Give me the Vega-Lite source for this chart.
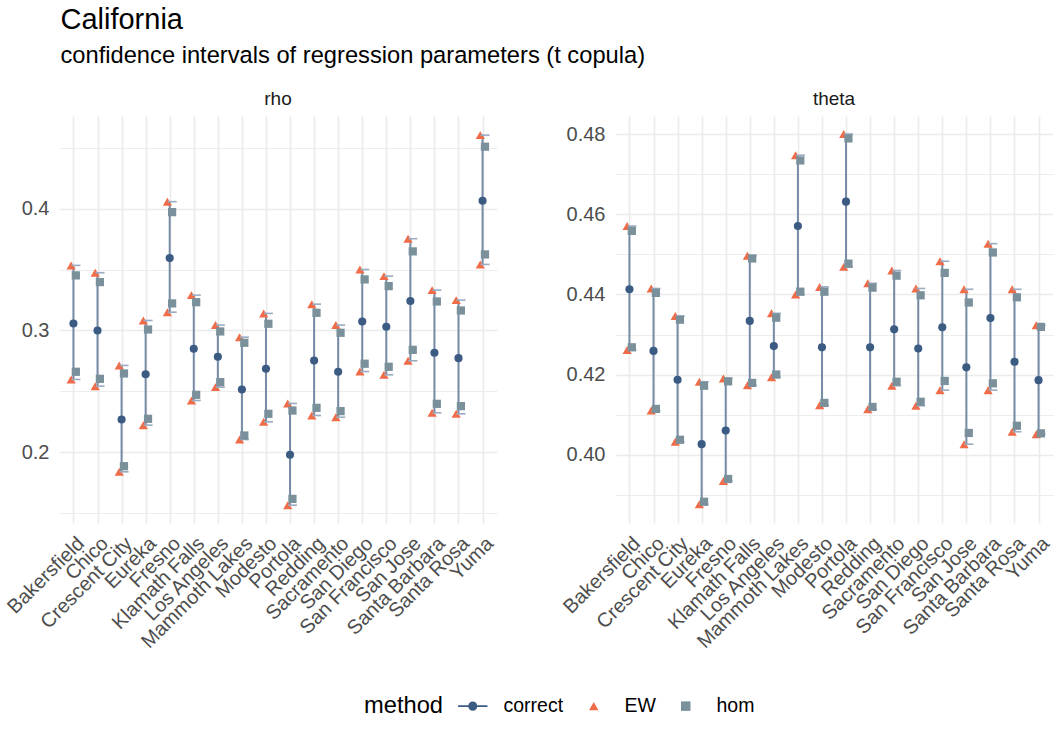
{
  "$schema": "https://vega.github.io/schema/vega-lite/v6.json",
  "padding": {"left": 3, "top": 6, "right": 5, "bottom": 5},
  "background": "white",
  "title": {
    "text": "California",
    "subtitle": "confidence intervals of regression parameters (t copula)",
    "anchor": "start",
    "frame": "bounds",
    "dx": 57,
    "fontSize": 29,
    "fontWeight": "normal",
    "font": "Liberation Sans",
    "color": "#000000",
    "subtitleFontSize": 23.7,
    "subtitleFont": "Liberation Sans",
    "subtitleColor": "#000000",
    "subtitlePadding": 9,
    "offset": 22
  },
  "config": {
    "font": "Liberation Sans",
    "view": {"stroke": null},
    "axis": {
      "grid": true,
      "gridColor": "#ebebeb",
      "gridWidth": 1.6,
      "domain": false,
      "ticks": false,
      "labelFontSize": 20,
      "labelColor": "#4d4d4d",
      "labelFont": "Liberation Sans",
      "labelPadding": 10,
      "title": null
    },
    "title": {"fontSize": 19, "fontWeight": "normal", "color": "#1a1a1a", "font": "Liberation Sans", "offset": 7},
    "legend": {
      "orient": "none",
      "direction": "horizontal",
      "titleOrient": "left",
      "titleFontSize": 23.7,
      "titleFontWeight": "normal",
      "titleColor": "#000000",
      "titleFont": "Liberation Sans",
      "titlePadding": 19,
      "labelFontSize": 19.5,
      "labelColor": "#000000",
      "labelFont": "Liberation Sans",
      "labelOffset": 21,
      "columnPadding": 20,
      "symbolSize": 90,
      "symbolStrokeWidth": 0,
      "legendX": 305,
      "legendY": 580
    }
  },
  "data": {
    "values": [
      {"param": "rho", "city": "Bakersfield", "method": "EW", "lower": 0.2598, "upper": 0.3534},
      {"param": "rho", "city": "Bakersfield", "method": "hom", "lower": 0.2661, "upper": 0.3452},
      {"param": "rho", "city": "Bakersfield", "method": "correct", "est": 0.3057},
      {"param": "rho", "city": "Chico", "method": "EW", "lower": 0.2543, "upper": 0.3474},
      {"param": "rho", "city": "Chico", "method": "hom", "lower": 0.2603, "upper": 0.3397},
      {"param": "rho", "city": "Chico", "method": "correct", "est": 0.3},
      {"param": "rho", "city": "Crescent City", "method": "EW", "lower": 0.184, "upper": 0.2713},
      {"param": "rho", "city": "Crescent City", "method": "hom", "lower": 0.1886, "upper": 0.2647},
      {"param": "rho", "city": "Crescent City", "method": "correct", "est": 0.2269},
      {"param": "rho", "city": "Eureka", "method": "EW", "lower": 0.2223, "upper": 0.3082},
      {"param": "rho", "city": "Eureka", "method": "hom", "lower": 0.2275, "upper": 0.3008},
      {"param": "rho", "city": "Eureka", "method": "correct", "est": 0.2641},
      {"param": "rho", "city": "Fresno", "method": "EW", "lower": 0.315, "upper": 0.4057},
      {"param": "rho", "city": "Fresno", "method": "hom", "lower": 0.3222, "upper": 0.3971},
      {"param": "rho", "city": "Fresno", "method": "correct", "est": 0.3594},
      {"param": "rho", "city": "Klamath Falls", "method": "EW", "lower": 0.2425, "upper": 0.329},
      {"param": "rho", "city": "Klamath Falls", "method": "hom", "lower": 0.2472, "upper": 0.3232},
      {"param": "rho", "city": "Klamath Falls", "method": "correct", "est": 0.285},
      {"param": "rho", "city": "Los Angeles", "method": "EW", "lower": 0.2535, "upper": 0.3044},
      {"param": "rho", "city": "Los Angeles", "method": "hom", "lower": 0.2576, "upper": 0.2992},
      {"param": "rho", "city": "Los Angeles", "method": "correct", "est": 0.2784},
      {"param": "rho", "city": "Mammoth Lakes", "method": "EW", "lower": 0.2105, "upper": 0.2945},
      {"param": "rho", "city": "Mammoth Lakes", "method": "hom", "lower": 0.2138, "upper": 0.2899},
      {"param": "rho", "city": "Mammoth Lakes", "method": "correct", "est": 0.2516},
      {"param": "rho", "city": "Modesto", "method": "EW", "lower": 0.225, "upper": 0.314},
      {"param": "rho", "city": "Modesto", "method": "hom", "lower": 0.2316, "upper": 0.3055},
      {"param": "rho", "city": "Modesto", "method": "correct", "est": 0.2686},
      {"param": "rho", "city": "Portola", "method": "EW", "lower": 0.1566, "upper": 0.2401},
      {"param": "rho", "city": "Portola", "method": "hom", "lower": 0.1618, "upper": 0.2343},
      {"param": "rho", "city": "Portola", "method": "correct", "est": 0.198},
      {"param": "rho", "city": "Redding", "method": "EW", "lower": 0.2302, "upper": 0.3216},
      {"param": "rho", "city": "Redding", "method": "hom", "lower": 0.2365, "upper": 0.3145},
      {"param": "rho", "city": "Redding", "method": "correct", "est": 0.2754},
      {"param": "rho", "city": "Sacramento", "method": "EW", "lower": 0.2288, "upper": 0.3044},
      {"param": "rho", "city": "Sacramento", "method": "hom", "lower": 0.2338, "upper": 0.2981},
      {"param": "rho", "city": "Sacramento", "method": "correct", "est": 0.2661},
      {"param": "rho", "city": "San Diego", "method": "EW", "lower": 0.2663, "upper": 0.35},
      {"param": "rho", "city": "San Diego", "method": "hom", "lower": 0.2727, "upper": 0.3419},
      {"param": "rho", "city": "San Diego", "method": "correct", "est": 0.3074},
      {"param": "rho", "city": "San Francisco", "method": "EW", "lower": 0.2636, "upper": 0.3446},
      {"param": "rho", "city": "San Francisco", "method": "hom", "lower": 0.2702, "upper": 0.3364},
      {"param": "rho", "city": "San Francisco", "method": "correct", "est": 0.303},
      {"param": "rho", "city": "San Jose", "method": "EW", "lower": 0.2751, "upper": 0.3753},
      {"param": "rho", "city": "San Jose", "method": "hom", "lower": 0.2841, "upper": 0.3649},
      {"param": "rho", "city": "San Jose", "method": "correct", "est": 0.3242},
      {"param": "rho", "city": "Santa Barbara", "method": "EW", "lower": 0.2324, "upper": 0.3331},
      {"param": "rho", "city": "Santa Barbara", "method": "hom", "lower": 0.2398, "upper": 0.3238},
      {"param": "rho", "city": "Santa Barbara", "method": "correct", "est": 0.2817},
      {"param": "rho", "city": "Santa Rosa", "method": "EW", "lower": 0.2316, "upper": 0.3249},
      {"param": "rho", "city": "Santa Rosa", "method": "hom", "lower": 0.2379, "upper": 0.3164},
      {"param": "rho", "city": "Santa Rosa", "method": "correct", "est": 0.2773},
      {"param": "rho", "city": "Yuma", "method": "EW", "lower": 0.3542, "upper": 0.4603},
      {"param": "rho", "city": "Yuma", "method": "hom", "lower": 0.3624, "upper": 0.4508},
      {"param": "rho", "city": "Yuma", "method": "correct", "est": 0.4065},
      {"param": "theta", "city": "Bakersfield", "method": "EW", "lower": 0.4261, "upper": 0.4571},
      {"param": "theta", "city": "Bakersfield", "method": "hom", "lower": 0.4268, "upper": 0.4559},
      {"param": "theta", "city": "Bakersfield", "method": "correct", "est": 0.4413},
      {"param": "theta", "city": "Chico", "method": "EW", "lower": 0.411, "upper": 0.4415},
      {"param": "theta", "city": "Chico", "method": "hom", "lower": 0.4114, "upper": 0.4404},
      {"param": "theta", "city": "Chico", "method": "correct", "est": 0.4259},
      {"param": "theta", "city": "Crescent City", "method": "EW", "lower": 0.4032, "upper": 0.4346},
      {"param": "theta", "city": "Crescent City", "method": "hom", "lower": 0.4037, "upper": 0.4337},
      {"param": "theta", "city": "Crescent City", "method": "correct", "est": 0.4187},
      {"param": "theta", "city": "Eureka", "method": "EW", "lower": 0.3876, "upper": 0.4182},
      {"param": "theta", "city": "Eureka", "method": "hom", "lower": 0.3882, "upper": 0.4172},
      {"param": "theta", "city": "Eureka", "method": "correct", "est": 0.4026},
      {"param": "theta", "city": "Fresno", "method": "EW", "lower": 0.3934, "upper": 0.419},
      {"param": "theta", "city": "Fresno", "method": "hom", "lower": 0.3939, "upper": 0.4183},
      {"param": "theta", "city": "Fresno", "method": "correct", "est": 0.406},
      {"param": "theta", "city": "Klamath Falls", "method": "EW", "lower": 0.4173, "upper": 0.4497},
      {"param": "theta", "city": "Klamath Falls", "method": "hom", "lower": 0.4179, "upper": 0.449},
      {"param": "theta", "city": "Klamath Falls", "method": "correct", "est": 0.4334},
      {"param": "theta", "city": "Los Angeles", "method": "EW", "lower": 0.4193, "upper": 0.4353},
      {"param": "theta", "city": "Los Angeles", "method": "hom", "lower": 0.42, "upper": 0.4342},
      {"param": "theta", "city": "Los Angeles", "method": "correct", "est": 0.4271},
      {"param": "theta", "city": "Mammoth Lakes", "method": "EW", "lower": 0.44, "upper": 0.4748},
      {"param": "theta", "city": "Mammoth Lakes", "method": "hom", "lower": 0.4407, "upper": 0.4735},
      {"param": "theta", "city": "Mammoth Lakes", "method": "correct", "est": 0.4571},
      {"param": "theta", "city": "Modesto", "method": "EW", "lower": 0.4123, "upper": 0.4419},
      {"param": "theta", "city": "Modesto", "method": "hom", "lower": 0.4129, "upper": 0.4407},
      {"param": "theta", "city": "Modesto", "method": "correct", "est": 0.4268},
      {"param": "theta", "city": "Portola", "method": "EW", "lower": 0.4469, "upper": 0.4801},
      {"param": "theta", "city": "Portola", "method": "hom", "lower": 0.4477, "upper": 0.479},
      {"param": "theta", "city": "Portola", "method": "correct", "est": 0.4632},
      {"param": "theta", "city": "Redding", "method": "EW", "lower": 0.4113, "upper": 0.4428},
      {"param": "theta", "city": "Redding", "method": "hom", "lower": 0.4119, "upper": 0.4417},
      {"param": "theta", "city": "Redding", "method": "correct", "est": 0.4268},
      {"param": "theta", "city": "Sacramento", "method": "EW", "lower": 0.4172, "upper": 0.446},
      {"param": "theta", "city": "Sacramento", "method": "hom", "lower": 0.4182, "upper": 0.4447},
      {"param": "theta", "city": "Sacramento", "method": "correct", "est": 0.4313},
      {"param": "theta", "city": "San Diego", "method": "EW", "lower": 0.4122, "upper": 0.4415},
      {"param": "theta", "city": "San Diego", "method": "hom", "lower": 0.4132, "upper": 0.4398},
      {"param": "theta", "city": "San Diego", "method": "correct", "est": 0.4265},
      {"param": "theta", "city": "San Francisco", "method": "EW", "lower": 0.4161, "upper": 0.4483},
      {"param": "theta", "city": "San Francisco", "method": "hom", "lower": 0.4184, "upper": 0.4454},
      {"param": "theta", "city": "San Francisco", "method": "correct", "est": 0.4318},
      {"param": "theta", "city": "San Jose", "method": "EW", "lower": 0.4026, "upper": 0.4413},
      {"param": "theta", "city": "San Jose", "method": "hom", "lower": 0.4054, "upper": 0.438},
      {"param": "theta", "city": "San Jose", "method": "correct", "est": 0.4218},
      {"param": "theta", "city": "Santa Barbara", "method": "EW", "lower": 0.4161, "upper": 0.4527},
      {"param": "theta", "city": "Santa Barbara", "method": "hom", "lower": 0.4178, "upper": 0.4505},
      {"param": "theta", "city": "Santa Barbara", "method": "correct", "est": 0.4341},
      {"param": "theta", "city": "Santa Rosa", "method": "EW", "lower": 0.4057, "upper": 0.4413},
      {"param": "theta", "city": "Santa Rosa", "method": "hom", "lower": 0.4072, "upper": 0.4393},
      {"param": "theta", "city": "Santa Rosa", "method": "correct", "est": 0.4232},
      {"param": "theta", "city": "Yuma", "method": "EW", "lower": 0.4051, "upper": 0.4323},
      {"param": "theta", "city": "Yuma", "method": "hom", "lower": 0.4053, "upper": 0.4319},
      {"param": "theta", "city": "Yuma", "method": "correct", "est": 0.4186}
    ]
  },
  "spacing": 62,
  "hconcat": [
    {
      "title": "rho",
      "width": 438,
      "height": 407,
      "transform": [{"filter": "datum.param === 'rho'"}],
      "encoding": {
        "x": {"field": "city", "type": "nominal", "scale": {"type": "point", "padding": 0.6}, "axis": {"labelAngle": -45, "labelAlign": "right", "labelBaseline": "top"}}
      },
      "layer": [
        {
          "transform": [{"filter": "datum.method === 'EW'"}],
          "mark": {"type": "rule", "color": "#758ba6", "strokeWidth": 2},
          "encoding": {
            "y": {"field": "lower", "type": "quantitative", "scale": {"domain": [0.142, 0.476], "nice": false, "zero": false}, "axis": {"values": [0.15, 0.2, 0.25, 0.3, 0.35, 0.4, 0.45], "gridWidth": {"condition": {"test": "abs(datum.value*10 - round(datum.value*10)) < 1e-6", "value": 1.6}, "value": 0.9}, "labelExpr": "abs(datum.value*10 - round(datum.value*10)) < 1e-6 ? format(datum.value, '.1f') : ''"}},
            "y2": {"field": "upper"}
          }
        },
        {
          "transform": [{"filter": "datum.method === 'EW'"}],
          "mark": {"type": "point", "filled": true, "opacity": 1, "size": 85, "xOffset": -2.3},
          "encoding": {
            "y": {"field": "lower", "type": "quantitative"},
            "color": {"field": "method", "type": "nominal", "title": "method", "scale": {"domain": ["correct", "EW", "hom"], "range": ["#3b5b83", "#f06b47", "#7a919c"]}},
            "shape": {"field": "method", "type": "nominal", "title": "method", "scale": {"domain": ["correct", "EW", "hom"], "range": ["M-3.1,-0.17H3.1V0.17H-3.1Z M-0.95,0A0.95,0.95 0 1,1 0.95,0A0.95,0.95 0 1,1 -0.95,0Z", "triangle-up", "square"]}}
          }
        },
        {
          "transform": [{"filter": "datum.method === 'EW'"}],
          "mark": {"type": "point", "filled": true, "opacity": 1, "size": 85, "xOffset": -2.3},
          "encoding": {
            "y": {"field": "upper", "type": "quantitative"},
            "color": {"field": "method", "type": "nominal", "title": "method"},
            "shape": {"field": "method", "type": "nominal", "title": "method"}
          }
        },
        {
          "transform": [{"filter": "datum.method === 'EW'"}],
          "mark": {"type": "tick", "orient": "horizontal", "size": 9, "thickness": 1.6, "color": "#9aabc2", "opacity": 1, "xOffset": 2.5},
          "encoding": {"y": {"field": "lower", "type": "quantitative"}}
        },
        {
          "transform": [{"filter": "datum.method === 'EW'"}],
          "mark": {"type": "tick", "orient": "horizontal", "size": 9, "thickness": 1.6, "color": "#9aabc2", "opacity": 1, "xOffset": 2.5},
          "encoding": {"y": {"field": "upper", "type": "quantitative"}}
        },
        {
          "transform": [{"filter": "datum.method === 'hom'"}],
          "mark": {"type": "point", "filled": true, "opacity": 1, "size": 68, "xOffset": 2.4},
          "encoding": {
            "y": {"field": "lower", "type": "quantitative"},
            "color": {"field": "method", "type": "nominal", "title": "method"},
            "shape": {"field": "method", "type": "nominal", "title": "method"}
          }
        },
        {
          "transform": [{"filter": "datum.method === 'hom'"}],
          "mark": {"type": "point", "filled": true, "opacity": 1, "size": 68, "xOffset": 2.4},
          "encoding": {
            "y": {"field": "upper", "type": "quantitative"},
            "color": {"field": "method", "type": "nominal", "title": "method"},
            "shape": {"field": "method", "type": "nominal", "title": "method"}
          }
        },
        {
          "transform": [{"filter": "datum.method === 'correct'"}],
          "mark": {"type": "point", "shape": "circle", "filled": true, "opacity": 1, "size": 66},
          "encoding": {
            "y": {"field": "est", "type": "quantitative"},
            "color": {"field": "method", "type": "nominal", "title": "method"}
          }
        }
      ]
    },
    {
      "title": "theta",
      "width": 438,
      "height": 407,
      "transform": [{"filter": "datum.param === 'theta'"}],
      "encoding": {
        "x": {"field": "city", "type": "nominal", "scale": {"type": "point", "padding": 0.6}, "axis": {"labelAngle": -45, "labelAlign": "right", "labelBaseline": "top"}}
      },
      "layer": [
        {
          "transform": [{"filter": "datum.method === 'EW'"}],
          "mark": {"type": "rule", "color": "#758ba6", "strokeWidth": 2},
          "encoding": {
            "y": {"field": "lower", "type": "quantitative", "scale": {"domain": [0.3829, 0.4846], "nice": false, "zero": false}, "axis": {"values": [0.39, 0.4, 0.41, 0.42, 0.43, 0.44, 0.45, 0.46, 0.47, 0.48], "gridWidth": {"condition": {"test": "abs(datum.value*50 - round(datum.value*50)) < 1e-6", "value": 1.6}, "value": 0.9}, "labelExpr": "abs(datum.value*50 - round(datum.value*50)) < 1e-6 ? format(datum.value, '.2f') : ''"}},
            "y2": {"field": "upper"}
          }
        },
        {
          "transform": [{"filter": "datum.method === 'EW'"}],
          "mark": {"type": "point", "filled": true, "opacity": 1, "size": 85, "xOffset": -2.3},
          "encoding": {
            "y": {"field": "lower", "type": "quantitative"},
            "color": {"field": "method", "type": "nominal", "title": "method"},
            "shape": {"field": "method", "type": "nominal", "title": "method"}
          }
        },
        {
          "transform": [{"filter": "datum.method === 'EW'"}],
          "mark": {"type": "point", "filled": true, "opacity": 1, "size": 85, "xOffset": -2.3},
          "encoding": {
            "y": {"field": "upper", "type": "quantitative"},
            "color": {"field": "method", "type": "nominal", "title": "method"},
            "shape": {"field": "method", "type": "nominal", "title": "method"}
          }
        },
        {
          "transform": [{"filter": "datum.method === 'EW'"}],
          "mark": {"type": "tick", "orient": "horizontal", "size": 9, "thickness": 1.6, "color": "#9aabc2", "opacity": 1, "xOffset": 2.5},
          "encoding": {"y": {"field": "lower", "type": "quantitative"}}
        },
        {
          "transform": [{"filter": "datum.method === 'EW'"}],
          "mark": {"type": "tick", "orient": "horizontal", "size": 9, "thickness": 1.6, "color": "#9aabc2", "opacity": 1, "xOffset": 2.5},
          "encoding": {"y": {"field": "upper", "type": "quantitative"}}
        },
        {
          "transform": [{"filter": "datum.method === 'hom'"}],
          "mark": {"type": "point", "filled": true, "opacity": 1, "size": 68, "xOffset": 2.4},
          "encoding": {
            "y": {"field": "lower", "type": "quantitative"},
            "color": {"field": "method", "type": "nominal", "title": "method"},
            "shape": {"field": "method", "type": "nominal", "title": "method"}
          }
        },
        {
          "transform": [{"filter": "datum.method === 'hom'"}],
          "mark": {"type": "point", "filled": true, "opacity": 1, "size": 68, "xOffset": 2.4},
          "encoding": {
            "y": {"field": "upper", "type": "quantitative"},
            "color": {"field": "method", "type": "nominal", "title": "method"},
            "shape": {"field": "method", "type": "nominal", "title": "method"}
          }
        },
        {
          "transform": [{"filter": "datum.method === 'correct'"}],
          "mark": {"type": "point", "shape": "circle", "filled": true, "opacity": 1, "size": 66},
          "encoding": {
            "y": {"field": "est", "type": "quantitative"},
            "color": {"field": "method", "type": "nominal", "title": "method"}
          }
        }
      ]
    }
  ],
  "resolve": {"scale": {"y": "independent"}}
}
